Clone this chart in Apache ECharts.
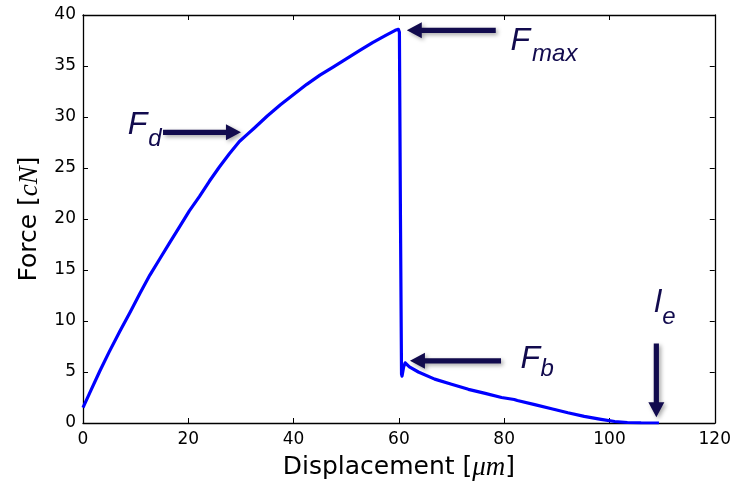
<!DOCTYPE html>
<html>
<head>
<meta charset="utf-8">
<script src="https://cdn.jsdelivr.net/npm/echarts@6/dist/echarts.min.js"></script>
<style>
  html, body { margin: 0; padding: 0; background: #fff; }
  #main { width: 734px; height: 486px; }
</style>
</head>
<body>
<div id="main"></div>
<script>
// displacement [um] / force [cN]
var dispData = [0, 1.5, 3.2, 5.0, 7.0, 9.0, 10.8, 12.7, 14.6, 16.5, 18.3, 20.2, 22.1, 24.0, 25.9, 27.8, 29.7, 31.2, 32.5, 35.0, 37.5, 40.0, 42.5, 45.0, 47.5, 50.0, 52.5, 55.0, 57.5, 59.3, 59.9, 60.1, 60.3, 60.5, 60.6, 60.9, 61.2, 62.0, 63.7, 66.8, 70.0, 73.2, 76.4, 79.5, 81.9, 82.2, 82.5, 85.8, 89.0, 92.1, 95.2, 98.4, 101.0, 103.4, 106.0, 109.4];
var forceData = [1.5, 3.2, 5.1, 7.0, 9.0, 10.9, 12.7, 14.5, 16.1, 17.7, 19.2, 20.8, 22.2, 23.7, 25.1, 26.4, 27.6, 28.3, 28.9, 30.1, 31.2, 32.2, 33.2, 34.1, 34.9, 35.7, 36.5, 37.3, 38.0, 38.5, 38.6, 38.3, 20.0, 4.8, 4.6, 5.5, 5.9, 5.5, 5.0, 4.3, 3.8, 3.3, 2.9, 2.5, 2.3, 2.4, 2.2, 1.8, 1.4, 1.0, 0.65, 0.36, 0.15, 0.05, 0.01, 0.0];

var xTicks = [0, 20, 40, 60, 80, 100, 120];
var yTicks = [0, 5, 10, 15, 20, 25, 30, 35, 40];

// annotation arrows: [tailX, tailY, tipX, tipY] in data units
var arrows = [
  [15.2, 28.5, 30.0, 28.5],
  [78.4, 38.5, 61.5, 38.5],
  [79.4, 6.1, 62.1, 6.1],
  [108.9, 7.8, 108.9, 0.56]
];
// labels: main letter, subscript, anchor positions (data units)
var labels = [
  { main: 'F', sub: 'd',   at: [8.5, 29.2],  subAt: [12.4, 27.8] },
  { main: 'F', sub: 'max', at: [81.2, 37.4], subAt: [85.3, 36.1] },
  { main: 'F', sub: 'b',   at: [83.1, 6.3],  subAt: [86.9, 5.3] },
  { main: 'l', sub: 'e',   at: [108.5, 11.8], subAt: [110.0, 10.4] }
];

var navy = '#120b4e';
var chart = echarts.init(document.getElementById('main'));

var seriesData = dispData.map(function (d, i) { return [d, forceData[i]]; });

var axisCommon = {
  axisLine: { show: true, onZero: false, lineStyle: { color: '#000', width: 1.3 } },
  axisTick: { show: true, inside: true, length: 5, lineStyle: { color: '#000', width: 1 } },
  splitLine: { show: false }
};

chart.setOption({
  animation: false,
  grid: { left: 83, right: 16, top: 15, bottom: 63 },
  xAxis: [
    Object.assign({
      type: 'value', min: 0, max: 120, interval: 20,
      name: 'Displacement [{m|μm}]',
      nameLocation: 'middle', nameGap: 31,
      nameTextStyle: {
        fontFamily: 'DejaVu Sans', fontSize: 25, color: '#000',
        rich: { m: { fontFamily: 'Liberation Serif', fontStyle: 'italic', fontSize: 27, color: '#000' } }
      },
      axisLabel: { fontFamily: 'DejaVu Sans', fontSize: 17, color: '#000', margin: 8 }
    }, axisCommon),
    Object.assign({
      type: 'value', min: 0, max: 120, interval: 20, position: 'top',
      axisLabel: { show: false }
    }, axisCommon)
  ],
  yAxis: [
    Object.assign({
      type: 'value', min: 0, max: 40, interval: 5,
      name: 'Force [{m|cN}]',
      nameLocation: 'middle', nameGap: 40, nameRotate: 90,
      nameTextStyle: {
        fontFamily: 'DejaVu Sans', fontSize: 25, color: '#000',
        rich: { m: { fontFamily: 'Liberation Serif', fontStyle: 'italic', fontSize: 27, color: '#000' } }
      },
      axisLabel: { fontFamily: 'DejaVu Sans', fontSize: 17, color: '#000', margin: 7 }
    }, axisCommon),
    Object.assign({
      type: 'value', min: 0, max: 40, interval: 5, position: 'right',
      axisLabel: { show: false }
    }, axisCommon)
  ],
  series: [{
    type: 'line',
    data: seriesData,
    showSymbol: false,
    smooth: false,
    lineStyle: { color: '#0000ff', width: 3.2, join: 'round' },
    z: 3
  }]
});

function px(p) { return chart.convertToPixel({ xAxisIndex: 0, yAxisIndex: 0 }, p); }

function arrowShape(a) {
  var t = px([a[0], a[1]]), h = px([a[2], a[3]]);
  var dx = h[0] - t[0], dy = h[1] - t[1];
  var len = Math.sqrt(dx * dx + dy * dy);
  var ux = dx / len, uy = dy / len, nx = -uy, ny = ux;
  var hl = 15, hw = 8, sw = 2.6;
  var bx = h[0] - ux * hl, by = h[1] - uy * hl;
  return [
    [t[0] + nx * sw, t[1] + ny * sw],
    [bx + nx * sw, by + ny * sw],
    [bx + nx * hw, by + ny * hw],
    [h[0], h[1]],
    [bx - nx * hw, by - ny * hw],
    [bx - nx * sw, by - ny * sw],
    [t[0] - nx * sw, t[1] - ny * sw]
  ];
}

var elements = [];
arrows.forEach(function (a) {
  elements.push({
    type: 'polygon',
    shape: { points: arrowShape(a) },
    style: {
      fill: navy,
      shadowColor: 'rgba(0,0,0,0.35)', shadowBlur: 4, shadowOffsetX: 2, shadowOffsetY: 2
    },
    z: 10
  });
});
labels.forEach(function (l) {
  var p = px(l.at), s = px(l.subAt);
  elements.push({
    type: 'text', x: p[0], y: p[1], z: 10,
    style: { text: l.main, fill: navy, font: 'italic 32px "Liberation Sans"', align: 'left', verticalAlign: 'middle' }
  });
  elements.push({
    type: 'text', x: s[0], y: s[1], z: 10,
    style: { text: l.sub, fill: navy, font: 'italic 24px "Liberation Sans"', align: 'left', verticalAlign: 'middle' }
  });
});
chart.setOption({ graphic: { elements: elements } });
</script>
</body>
</html>
